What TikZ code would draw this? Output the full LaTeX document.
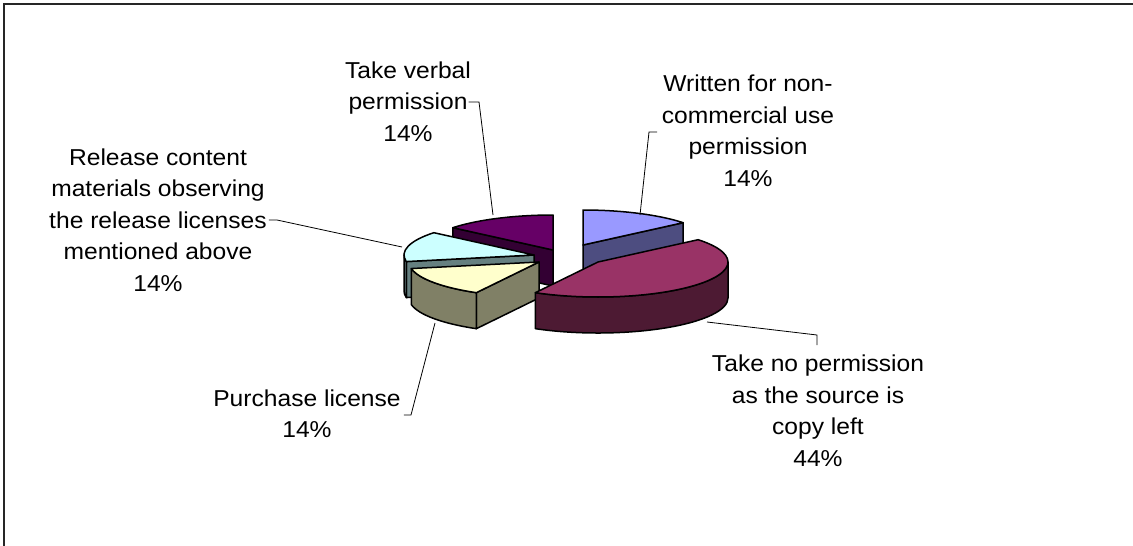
\documentclass[tikz,border=0pt]{standalone}
\usepackage{fontspec}
\setmainfont{Liberation Sans}[FakeStretch=1.07]
\usetikzlibrary{calc}
\definecolor{purpleTop}{HTML}{660066}
\definecolor{purpleSide}{HTML}{330033}
\definecolor{blueTop}{HTML}{9999FF}
\definecolor{blueSide}{HTML}{4D4D80}
\definecolor{cyanTop}{HTML}{CCFFFF}
\definecolor{cyanSide}{HTML}{668080}
\definecolor{creamTop}{HTML}{FFFFCC}
\definecolor{creamSide}{HTML}{808066}
\definecolor{maroonTop}{HTML}{993366}
\definecolor{maroonSide}{HTML}{4D1A33}
\begin{document}
\begin{tikzpicture}[x=1pt,y=-1pt,
  lbl/.style={font=\fontsize{23}{31.5}\selectfont, inner sep=0pt, anchor=base},
  leader/.style={draw=black, line width=0.8pt},
  slice/.style={draw=black, line width=1.5pt, line join=round},
  ell/.style={x radius=130, y radius=35}]
\useasboundingbox (0,0) rectangle (1133,546);
\draw[line width=1.6pt, black!85] (4,546) -- (4,4) -- (1133,4);

% slice centres (exploded)
\coordinate (Cp) at (553,250);
\coordinate (Cb) at (583,245);
\coordinate (Cc) at (534,255);
\coordinate (Cr) at (539,262);
\coordinate (Cm) at (598,262);

% purple: Take verbal permission
\filldraw[slice, fill=purpleSide] (Cp) -- ($(Cp)+(219.6:130 and 35)$) -- ++(0,36) -- ($(Cp)+(0,36)$) -- cycle;
\filldraw[slice, fill=purpleTop] (Cp) -- ($(Cp)+(219.6:130 and 35)$) arc[start angle=219.6, end angle=270, ell] -- cycle;

% blue: Written for non-commercial use permission
\filldraw[slice, fill=blueSide] (Cb) -- ($(Cb)+(-39.6:130 and 35)$) -- ++(0,36) -- ($(Cb)+(0,36)$) -- cycle;
\filldraw[slice, fill=blueTop] (Cb) -- ($(Cb)+(-90:130 and 35)$) arc[start angle=-90, end angle=-39.6, ell] -- cycle;

% cyan: Release content materials
\filldraw[slice, fill=cyanSide] (Cc) -- ($(Cc)+(169.2:130 and 35)$) -- ++(0,36) -- ($(Cc)+(0,36)$) -- cycle;
\filldraw[slice, fill=cyanSide] ($(Cc)+(169.2:130 and 35)$) arc[start angle=169.2, end angle=180, ell] -- ++(0,36) arc[start angle=180, end angle=169.2, ell] -- cycle;
\filldraw[slice, fill=cyanTop] (Cc) -- ($(Cc)+(169.2:130 and 35)$) arc[start angle=169.2, end angle=219.6, ell] -- cycle;

% cream: Purchase license
\filldraw[slice, fill=creamSide] (Cr) -- ($(Cr)+(118.8:130 and 35)$) -- ++(0,36) -- ($(Cr)+(0,36)$) -- cycle;
\filldraw[slice, fill=creamSide] ($(Cr)+(118.8:130 and 35)$) arc[start angle=118.8, end angle=169.2, ell] -- ++(0,36) arc[start angle=169.2, end angle=118.8, ell] -- cycle;
\filldraw[slice, fill=creamTop] (Cr) -- ($(Cr)+(118.8:130 and 35)$) arc[start angle=118.8, end angle=169.2, ell] -- cycle;

% maroon: Take no permission
\filldraw[slice, fill=maroonSide] ($(Cm)+(0:130 and 35)$) arc[start angle=0, end angle=118.8, ell] -- ++(0,36) arc[start angle=118.8, end angle=0, ell] -- cycle;
\filldraw[slice, fill=maroonTop] (Cm) -- ($(Cm)+(-39.6:130 and 35)$) arc[start angle=-39.6, end angle=118.8, ell] -- cycle;

% labels
\node[lbl] (tv1) at (408,78.3) {Take verbal};
\node[lbl] (tv2) at (408,109.8) {permission};
\node[lbl] (tv3) at (408,141.3) {14\%};

\node[lbl] (wn1) at (748,91.5) {Written for non-};
\node[lbl] (wn2) at (748,123) {commercial use};
\node[lbl] (wn3) at (748,154.5) {permission};
\node[lbl] (wn4) at (748,186) {14\%};

\node[lbl] (rl1) at (158,165) {Release content};
\node[lbl] (rl2) at (158,196.5) {materials observing};
\node[lbl] (rl3) at (158,228) {the release licenses};
\node[lbl] (rl4) at (158,259.5) {mentioned above};
\node[lbl] (rl5) at (158,291) {14\%};

\node[lbl] (pl1) at (307,406) {Purchase license};
\node[lbl] (pl2) at (307,437.5) {14\%};

\node[lbl] (np1) at (818,371.5) {Take no permission};
\node[lbl] (np2) at (818,403) {as the source is};
\node[lbl] (np3) at (818,434.5) {copy left};
\node[lbl] (np4) at (818,466) {44\%};

% leader lines
\coordinate (tvK) at (479,102);
\coordinate (tvE) at (493,215);
\draw[leader] ($(tvK -| tv2.east)+(1,0)$) -- (tvK) -- (tvE);

\coordinate (wnS) at (657,132);
\coordinate (wnK) at (649,132);
\coordinate (wnE) at (640,215);
\draw[leader] (wnS) -- (wnK) -- (wnE);

\coordinate (rlK) at (277,220);
\coordinate (rlE) at (402,247);
\draw[leader] ($(rlK -| rl3.east)+(2,0)$) -- (rlK) -- (rlE);

\coordinate (plK) at (411,415);
\coordinate (plE) at (435,323);
\draw[leader] ($(plK -| pl1.east)+(3,0)$) -- (plK) -- (plE);

\coordinate (npE) at (707,322);
\coordinate (npK) at (817,335);
\coordinate (npS) at (817,345);
\draw[leader] (npE) -- (npK) -- (npS);
\end{tikzpicture}
\end{document}
